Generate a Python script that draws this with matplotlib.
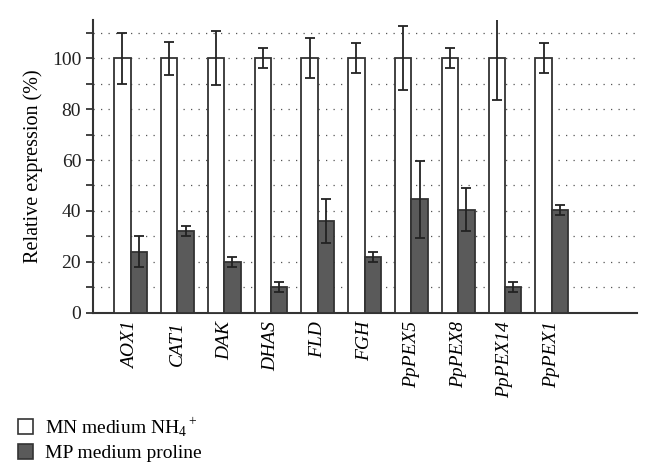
import matplotlib
matplotlib.use("Agg")
import matplotlib.pyplot as plt
import numpy as np
from matplotlib.patches import Patch

genes = ["AOX1", "CAT1", "DAK", "DHAS", "FLD", "FGH", "PpPEX5", "PpPEX8", "PpPEX14", "PpPEX1"]
mn_values = [100, 100, 100, 100, 100, 100, 100, 100, 100, 100]
mn_errors = [10, 6.5, 10.5, 4, 8, 6, 12.5, 4, 16.5, 6]
mp_values = [24, 32, 20, 10, 36, 22, 44.5, 40.5, 10, 40.5]
mp_errors = [6, 2, 2, 2, 8.5, 2, 15, 8.5, 2, 2]
legend_labels = ["MN medium NH$_4$$^+$", "MP medium proline"]

plt.rcParams['font.family'] = ['Liberation Serif', 'DejaVu Serif']
plt.rcParams['mathtext.fontset'] = 'custom'
plt.rcParams['mathtext.rm'] = 'Liberation Serif'

fig = plt.figure(figsize=(6.5, 4.74), dpi=100)
ax = fig.add_axes([0.143, 0.34, 0.837, 0.618])

x = np.arange(len(genes))
w = 0.35
ec = "#333333"
ax.bar(x - w/2, mn_values, w, color="white", edgecolor=ec, linewidth=1.3, zorder=3,
       yerr=mn_errors, error_kw=dict(ecolor="#222222", elinewidth=1.3, capsize=3.5, capthick=1.3, zorder=4))
ax.bar(x + w/2, mp_values, w, color="#5a5a5a", edgecolor=ec, linewidth=1.3, zorder=3,
       yerr=mp_errors, error_kw=dict(ecolor="#222222", elinewidth=1.3, capsize=3.5, capthick=1.3, zorder=4))

ax.set_xlim(-0.805, 10.82)
ax.set_ylim(0, 115)
ax.set_yticks(np.arange(0, 101, 20))
ax.set_yticks(np.arange(0, 111, 10), minor=True)
ax.yaxis.grid(True, which='both', linestyle=(0, (1, 5)), color="#555555", linewidth=0.9, zorder=0)
ax.set_axisbelow(True)
ax.tick_params(axis='y', which='both', direction='out', length=5, width=1.2, labelsize=14, colors="#222222")
ax.tick_params(axis='y', which='minor', length=5)
ax.set_xticks(x)
ax.set_xticklabels(genes, rotation=90, fontstyle='italic', fontsize=14)
ax.tick_params(axis='x', length=0, pad=6)
for s in ["top", "right"]:
    ax.spines[s].set_visible(False)
for s in ["left", "bottom"]:
    ax.spines[s].set_linewidth(1.5)
    ax.spines[s].set_color("#333333")
ax.set_ylabel("Relative expression (%)", fontsize=14.5, labelpad=6)

handles = [Patch(facecolor="white", edgecolor=ec, linewidth=1.2),
           Patch(facecolor="#5a5a5a", edgecolor=ec, linewidth=1.2)]
fig.legend(handles, legend_labels, loc='upper left', bbox_to_anchor=(0.015, 0.14),
           frameon=False, fontsize=14, handlelength=0.8, handleheight=0.8,
           handletextpad=0.6, labelspacing=0.25, borderaxespad=0)

fig.savefig("out.png", dpi=100)
